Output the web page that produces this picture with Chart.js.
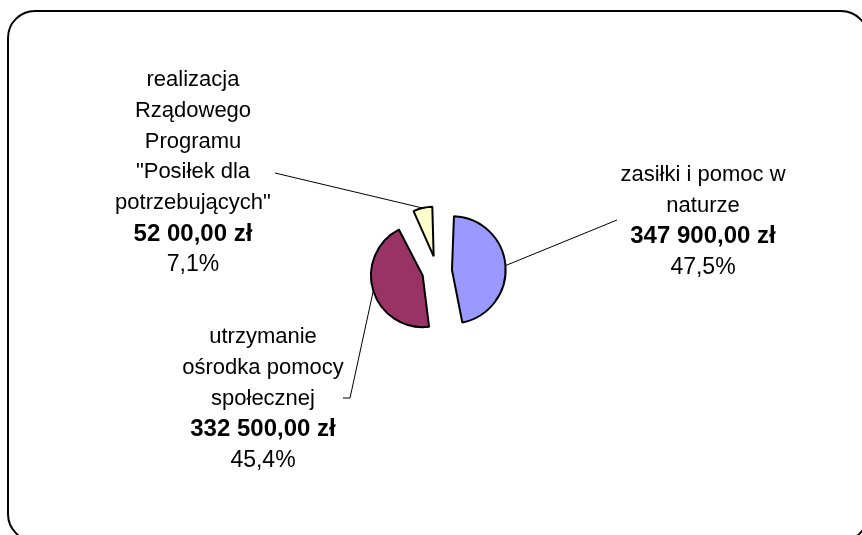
<!DOCTYPE html>
<html><head><meta charset="utf-8">
<script src="https://cdn.jsdelivr.net/npm/chart.js@4/dist/chart.umd.min.js"></script>
<style>
html,body{margin:0;padding:0;background:#fff;}
#wrap{position:relative;width:862px;height:535px;overflow:hidden;background:#fff;}
#frame{position:absolute;left:7px;top:10px;width:862px;height:532px;border:2px solid #000;border-radius:28px;box-sizing:border-box;}
canvas{position:absolute;left:0;top:0;}
</style></head><body>
<div id="wrap"><div id="frame"></div><canvas id="c" width="862" height="535"></canvas></div>
<script>
// ---- data ----
const categories = ['zasiłki i pomoc w naturze', 'utrzymanie ośrodka pomocy społecznej', 'realizacja Rządowego Programu "Posiłek dla potrzebujących"'];
const categoryLines = [
  ['zasiłki i pomoc w', 'naturze'],
  ['utrzymanie', 'ośrodka pomocy', 'społecznej'],
  ['realizacja', 'Rządowego', 'Programu', '"Posiłek dla', 'potrzebujących"']
];
const values = [347900, 332500, 52000];
const amountLabels = ['347 900,00 zł', '332 500,00 zł', '52 00,00 zł'];
const colors = ['#9999FF', '#993366', '#FFFFCC'];

// label layout relative to pie centre: text centre x, first line y, leader end, tick length
const labelLayout = [
  {dx: 266, dy: -96, ex: 180, ey: -51, tick: 0},
  {dx: -174, dy: 66, ex: -87, ey: 127, tick: -7},
  {dx: -244, dy: -191, ex: -162, ey: -98, tick: 0}
];
const FONT = '"Liberation Sans", Arial, sans-serif';
const LINE_H = 30.8;

const total = values.reduce((a, b) => a + b, 0);
const pct = v => (Math.round(v / total * 1000) / 10).toFixed(1).replace('.', ',') + '%';

const labelPlugin = {
  id: 'pieLabels',
  afterDraw(chart) {
    const ctx = chart.ctx;
    const area = chart.chartArea;
    const c0x = (area.left + area.right) / 2, c0y = (area.top + area.bottom) / 2;
    const meta = chart.getDatasetMeta(0);
    meta.data.forEach((arc, i) => {
      const p = arc.getProps(['x', 'y', 'startAngle', 'endAngle', 'outerRadius', 'circumference'], true);
      const mid = (p.startAngle + p.endAngle) / 2;
      const off = (arc.options.offset || 0) / 4;
      const fix = 1 - Math.sin(Math.min(Math.PI, p.circumference));
      const r = p.outerRadius + off * fix;
      const cx = p.x + Math.cos(mid) * off, cy = p.y + Math.sin(mid) * off;
      const sx = cx + Math.cos(mid) * r, sy = cy + Math.sin(mid) * r;
      const L = labelLayout[i];
      ctx.save();
      ctx.strokeStyle = '#000';
      ctx.lineWidth = 1;
      ctx.beginPath();
      ctx.moveTo(sx, sy);
      ctx.lineTo(c0x + L.ex, c0y + L.ey);
      if (L.tick) ctx.lineTo(c0x + L.ex + L.tick, c0y + L.ey);
      ctx.stroke();
      ctx.fillStyle = '#000';
      ctx.textAlign = 'center';
      ctx.textBaseline = 'middle';
      const lines = categoryLines[i];
      let y = c0y + L.dy;
      const x = c0x + L.dx;
      ctx.font = '22px ' + FONT;
      lines.forEach(t => { ctx.fillText(t, x, y); y += LINE_H; });
      ctx.font = 'bold 24px ' + FONT;
      ctx.fillText(amountLabels[i], x, y); y += LINE_H;
      ctx.font = '23px ' + FONT;
      ctx.fillText(pct(values[i]), x, y);
      ctx.restore();
    });
  }
};

new Chart(document.getElementById('c'), {
  type: 'pie',
  data: {
    labels: categories,
    datasets: [{
      data: values,
      backgroundColor: colors,
      borderColor: '#000',
      borderWidth: 2,
      offset: 60,
      radius: 41
    }]
  },
  options: {
    responsive: false,
    animation: false,
    layout: {padding: {left: 12, top: 7, right: 0, bottom: 0}},
    plugins: {legend: {display: false}, tooltip: {enabled: false}, title: {display: false}}
  },
  plugins: [labelPlugin]
});
</script>
</body></html>
